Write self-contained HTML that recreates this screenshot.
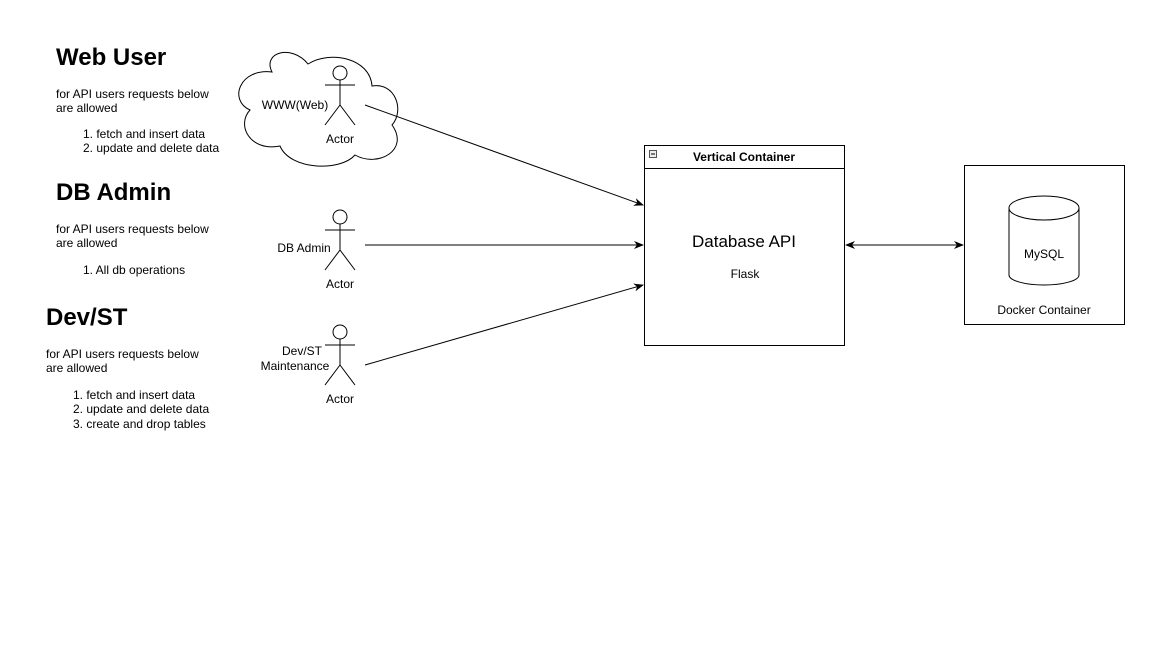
<!DOCTYPE html>
<html><head><meta charset="utf-8"><style>
body{margin:0;background:#fff;width:1170px;height:648px;overflow:hidden}
svg text{font-family:"Liberation Sans",Arial,sans-serif;fill:#000}
</style></head><body>
<svg width="1170" height="648" xmlns="http://www.w3.org/2000/svg">
<defs><marker id="a" markerWidth="10" markerHeight="8" refX="9" refY="4" orient="auto" markerUnits="userSpaceOnUse"><path d="M0,0 L10,4 L0,8 L3,4 Z" fill="#000"/></marker>
<marker id="b" markerWidth="10" markerHeight="8" refX="1" refY="4" orient="auto" markerUnits="userSpaceOnUse"><path d="M10,0 L0,4 L10,8 L7,4 Z" fill="#000"/></marker></defs>
<g font-size="12">
<text x="56" y="65" font-size="24" font-weight="bold">Web User</text>
<text x="56" y="98">for API users requests below</text>
<text x="56" y="112">are allowed</text>
<text x="83" y="138">1. fetch and insert data</text>
<text x="83" y="152">2. update and delete data</text>
<text x="56" y="200" font-size="24" font-weight="bold">DB Admin</text>
<text x="56" y="233">for API users requests below</text>
<text x="56" y="247">are allowed</text>
<text x="83" y="274">1. All db operations</text>
<text x="46" y="325" font-size="24" font-weight="bold">Dev/ST</text>
<text x="46" y="358">for API users requests below</text>
<text x="46" y="372">are allowed</text>
<text x="73" y="399">1. fetch and insert data</text>
<text x="73" y="413">2. update and delete data</text>
<text x="73" y="428">3. create and drop tables</text>
</g>
<path d="M272,72 C240,68 228,100 250,110 C236,125 250,152 280,146 C290,170 340,172 355,155 C378,168 410,150 392,125 C405,110 395,82 372,86 C370,58 330,50 308,64 C292,44 262,52 272,72 Z" fill="#fff" stroke="#000" stroke-width="1"/>
<g stroke="#000" fill="none" stroke-width="1">
<circle cx="340" cy="73" r="7" fill="#fff"/><path d="M340,80V105M325,85H355M340,105L325,125M340,105L355,125"/>
<circle cx="340" cy="217" r="7" fill="#fff"/><path d="M340,224V250M325,230H355M340,250L325,270M340,250L355,270"/>
<circle cx="340" cy="332" r="7" fill="#fff"/><path d="M340,339V365M325,345H355M340,365L325,385M340,365L355,385"/>
<line x1="365" y1="105" x2="643" y2="205" marker-end="url(#a)"/>
<line x1="365" y1="245" x2="643" y2="245" marker-end="url(#a)"/>
<line x1="365" y1="365" x2="643" y2="285" marker-end="url(#a)"/>
<line x1="846" y1="245" x2="963" y2="245" marker-start="url(#b)" marker-end="url(#a)"/>
<rect x="644.5" y="145.5" width="200" height="200"/>
<line x1="644.5" y1="168.5" x2="844.5" y2="168.5"/>
<rect x="649.5" y="150.5" width="7" height="7" fill="#eee" stroke="#555"/>
<rect x="964.5" y="165.5" width="160" height="159"/>
<path d="M1009,208 V275 A35,10 0 0 0 1079,275 V208" fill="#fff"/>
<ellipse cx="1044" cy="208" rx="35" ry="12" fill="#fff"/>
</g>
<line x1="651" y1="154" x2="655" y2="154" stroke="#000"/>
<g font-size="12" text-anchor="middle">
<text x="295" y="109">WWW(Web)</text>
<text x="340" y="143">Actor</text>
<text x="304" y="252">DB Admin</text>
<text x="340" y="288">Actor</text>
<text x="302" y="355">Dev/ST</text>
<text x="295" y="370">Maintenance</text>
<text x="340" y="403">Actor</text>
<text x="744" y="161" font-weight="bold">Vertical Container</text>
<text x="744" y="247" font-size="17">Database API</text>
<text x="745" y="278">Flask</text>
<text x="1044" y="258">MySQL</text>
<text x="1044" y="314">Docker Container</text>
</g>
</svg>
</body></html>
